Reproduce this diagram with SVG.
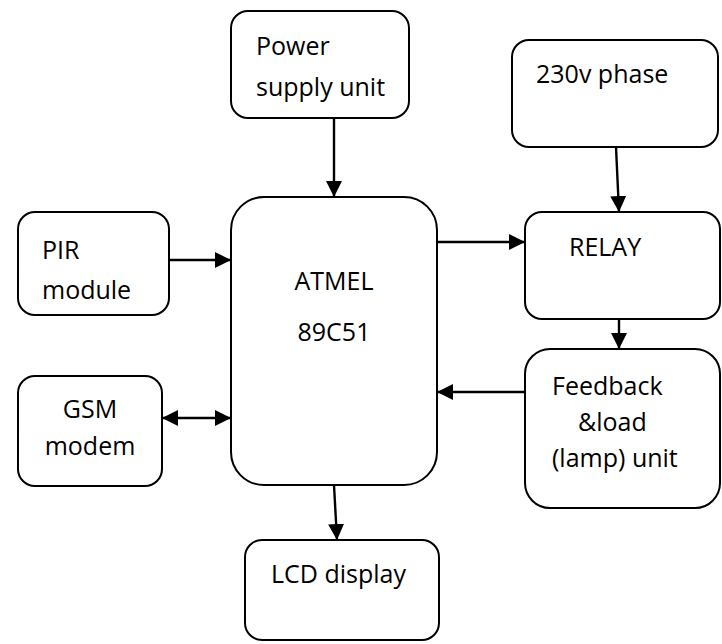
<svg xmlns="http://www.w3.org/2000/svg" width="722" height="644" viewBox="0 0 722 644">
<style>
.box{fill:#fff;stroke:#000;stroke-width:2}
.t{font-family:"Open Sans","Noto Sans",sans-serif;font-size:25px;fill:#000}
.c{stroke:#000;stroke-width:2.4;fill:none}
</style>
<defs>
<marker id="ah" markerUnits="userSpaceOnUse" markerWidth="17" markerHeight="16" refX="16" refY="8" orient="auto-start-reverse">
<path d="M0,0 L16,8 L0,16 z" fill="#000"/>
</marker>
</defs>
<rect width="722" height="644" fill="#fff"/>
<g id="power"><rect class="box" x="231" y="11" width="178" height="107" rx="17"/><text class="t" x="256" y="55">Power</text><text class="t" x="256" y="96">supply unit</text></g>
<g id="phase"><rect class="box" x="512" y="40" width="206" height="107" rx="17"/><text class="t" x="536" y="83">230v phase</text></g>
<g id="main"><rect class="box" x="231" y="197" width="206" height="288" rx="33"/><text class="t" x="334" y="290" text-anchor="middle">ATMEL</text><text class="t" x="334" y="341" text-anchor="middle">89C51</text></g>
<g id="pir"><rect class="box" x="18" y="212" width="151" height="103" rx="17"/><text class="t" x="42" y="259">PIR</text><text class="t" x="42" y="299">module</text></g>
<g id="gsm"><rect class="box" x="18" y="376" width="144" height="110" rx="17"/><text class="t" x="90" y="418" text-anchor="middle">GSM</text><text class="t" x="90" y="455" text-anchor="middle">modem</text></g>
<g id="relay"><rect class="box" x="525" y="212" width="195" height="107" rx="17"/><text class="t" x="569" y="256">RELAY</text></g>
<g id="feedback"><rect class="box" x="525" y="349" width="195" height="159" rx="25"/><text class="t" x="552" y="395">Feedback</text><text class="t" x="578" y="431">&amp;load</text><text class="t" x="552" y="467">(lamp) unit</text></g>
<g id="lcd"><rect class="box" x="245" y="540" width="194" height="100" rx="17"/><text class="t" x="271" y="583">LCD display</text></g>
<g id="connectors">
<path class="c" d="M334,118 L334,197" marker-end="url(#ah)"/>
<path class="c" d="M616,147 L619,212" marker-end="url(#ah)"/>
<path class="c" d="M169,260 L231,260" marker-end="url(#ah)"/>
<path class="c" d="M162,418 L231,418" marker-start="url(#ah)" marker-end="url(#ah)"/>
<path class="c" d="M437,242 L525,242" marker-end="url(#ah)"/>
<path class="c" d="M619,319 L619,349" marker-end="url(#ah)"/>
<path class="c" d="M525,392 L437,392" marker-end="url(#ah)"/>
<path class="c" d="M334,485 L337,540" marker-end="url(#ah)"/>
</g>
</svg>
